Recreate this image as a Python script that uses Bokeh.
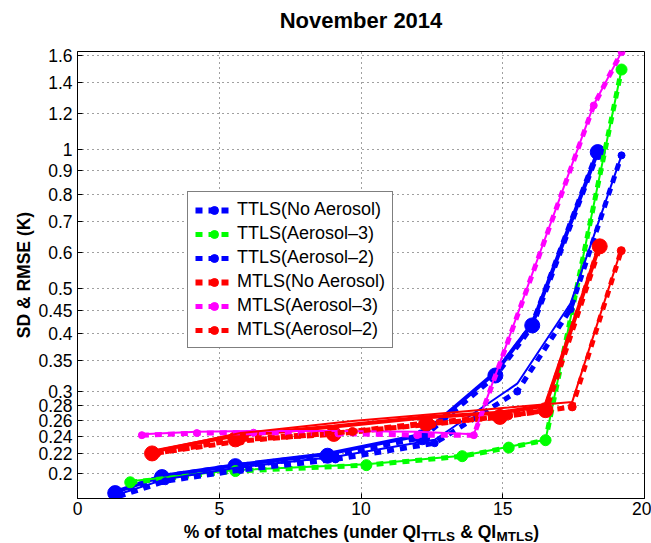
from bokeh.plotting import figure
from bokeh.layouts import column
from bokeh.models import (Range1d, FixedTicker, CustomJSTickFormatter, Legend,
                          LegendItem)
from bokeh.core.properties import value
from bokeh.embed import file_html
from bokeh.resources import INLINE

FONT = "Liberation Sans"

# ---------------- data ----------------
x_ticks = [0, 5, 10, 15, 20]
x_grid = [5, 10, 15]
y_ticks = [0.2, 0.22, 0.24, 0.26, 0.28, 0.3, 0.35, 0.4, 0.45, 0.5,
           0.6, 0.7, 0.8, 0.9, 1, 1.2, 1.4, 1.6]

names = ["TTLS(No Aerosol)", "TTLS(Aerosol\u20133)", "TTLS(Aerosol\u20132)",
         "MTLS(No Aerosol)", "MTLS(Aerosol\u20133)", "MTLS(Aerosol\u20132)"]
colors = ["#0000ff", "#00ff00", "#0000ff", "#ff0000", "#ff00ff", "#ff0000"]

# % of total matches
ttls_noaer_x = [1.33, 2.98, 5.57, 8.82, 12.16, 14.74, 16.04, 18.35]
ttls_aer3_x = [1.86, 5.57, 10.19, 13.57, 15.21, 16.51, 19.19]
ttls_aer2_x = [1.45, 3.10, 5.75, 9.10, 12.60, 15.51, 17.39, 19.19]
mtls_noaer_x = [2.63, 5.57, 9.04, 12.30, 14.90, 16.51, 18.42]
mtls_aer3_x = [2.27, 4.21, 6.21, 9.20, 11.98, 13.98, 18.21, 19.19]
mtls_aer2_x = [2.80, 5.75, 9.70, 12.50, 15.20, 17.45, 19.18]

# SD (dashed, with markers)
ttls_noaer_sd = [0.181, 0.196, 0.207, 0.218, 0.239, 0.325, 0.417, 0.988]
ttls_aer3_sd = [0.191, 0.202, 0.208, 0.2175, 0.227, 0.2355, 1.49]
ttls_aer2_sd = [0.178, 0.192, 0.203, 0.214, 0.232, 0.300, 0.452, 0.972]
mtls_noaer_sd = [0.2205, 0.2365, 0.243, 0.256, 0.2645, 0.2735, 0.618]
mtls_aer3_sd = [0.2415, 0.244, 0.2445, 0.2435, 0.2415, 0.2415, 1.246, 1.625]
mtls_aer2_sd = [0.221, 0.2345, 0.246, 0.255, 0.266, 0.278, 0.605]

# RMSE (solid)
ttls_noaer_rmse = [0.182, 0.197, 0.208, 0.220, 0.242, 0.330, 0.420, 0.990]
ttls_aer3_rmse = [0.192, 0.203, 0.209, 0.218, 0.228, 0.236, 1.49]
ttls_aer2_rmse = [0.180, 0.194, 0.206, 0.217, 0.236, 0.312, 0.465, 0.972]
mtls_noaer_rmse = [0.2225, 0.241, 0.252, 0.264, 0.270, 0.280, 0.622]
mtls_aer3_rmse = [0.2425, 0.2455, 0.2465, 0.2465, 0.2455, 0.2425, 1.25, 1.625]
mtls_aer2_rmse = [0.224, 0.244, 0.259, 0.268, 0.277, 0.285, 0.609]

xs_all = [ttls_noaer_x, ttls_aer3_x, ttls_aer2_x, mtls_noaer_x, mtls_aer3_x, mtls_aer2_x]
sd_all = [ttls_noaer_sd, ttls_aer3_sd, ttls_aer2_sd, mtls_noaer_sd, mtls_aer3_sd, mtls_aer2_sd]
rm_all = [ttls_noaer_rmse, ttls_aer3_rmse, ttls_aer2_rmse, mtls_noaer_rmse, mtls_aer3_rmse, mtls_aer2_rmse]

solid_w = [4, 2, 2, 4, 2, 2]
dash_w = [6, 5, 5, 6, 5, 5]
msize = [15, 11, 7, 15, 7, 8]

title_text = "November 2014"
y_label = "SD & RMSE (K)"
xlabel_main = ["% of total matches (under QI", "& QI", ")"]
xlabel_sub = ["TTLS", "MTLS"]

BL, BR = 77, 7   # left / right borders of all three stacked panels


def strip(height):
    f = figure(width=651, height=height, x_range=Range1d(0, 20),
               y_range=Range1d(height, 0), output_backend="svg",
               toolbar_location=None, x_axis_location=None, y_axis_location=None,
               min_border_left=BL, min_border_right=BR, min_border_top=0,
               min_border_bottom=0)
    f.title = None
    f.outline_line_color = None
    f.grid.visible = False
    return f


# ---------------- title strip ----------------
pt = strip(40)
pt.text(x=[10], y=[20.3], text=[title_text], text_font=value(FONT),
        text_font_style="bold", text_font_size="22px",
        text_baseline="middle", text_align="center", text_color="black")

# ---------------- main figure ----------------
p = figure(width=651, height=481, x_range=Range1d(0, 20),
           y_range=Range1d(0.1762, 1.63), y_axis_type="log",
           output_backend="svg", toolbar_location=None,
           min_border_left=BL, min_border_right=BR,
           min_border_top=11, min_border_bottom=23)
p.title = None

p.outline_line_color = "black"
p.outline_line_width = 1
p.outline_line_alpha = 1

p.xaxis.ticker = FixedTicker(ticks=x_ticks)
p.yaxis.ticker = FixedTicker(ticks=y_ticks)
p.yaxis.formatter = CustomJSTickFormatter(code="return String(Math.round(tick*100)/100);")
for ax in (p.xaxis, p.yaxis):
    ax.major_tick_in = 5
    ax.major_tick_out = 0
    ax.minor_tick_line_color = None
    ax.axis_line_color = "black"
    ax.major_tick_line_color = "black"
    ax.major_label_text_font = FONT
    ax.major_label_text_font_size = "17.5px"
    ax.major_label_text_color = "black"
p.xaxis.major_label_standoff = 3
p.yaxis.major_label_standoff = 5
p.yaxis.axis_label = y_label
p.yaxis.axis_label_text_font = FONT
p.yaxis.axis_label_text_font_style = "bold"
p.yaxis.axis_label_text_font_size = "17.5px"
p.yaxis.axis_label_text_color = "black"
p.yaxis.axis_label_standoff = 1

p.xgrid.ticker = FixedTicker(ticks=x_grid)
p.ygrid.ticker = FixedTicker(ticks=y_ticks)
for g in (p.xgrid, p.ygrid):
    g.grid_line_color = "#404040"
    g.grid_line_dash = "1 4"
    g.grid_line_width = 1

items = []
for i in range(6):
    c = colors[i]
    p.line(xs_all[i], rm_all[i], line_color=c, line_width=solid_w[i])
    dr = p.line(xs_all[i], sd_all[i], line_color=c, line_width=dash_w[i],
                line_dash="7 6")
    mr = p.scatter(xs_all[i], sd_all[i], marker="circle", size=msize[i],
                   fill_color=c, line_color=c)
    items.append(LegendItem(label=names[i], renderers=[dr, mr]))

legend = Legend(items=items, location=(110, 150),
                border_line_color="black", border_line_width=1,
                background_fill_color="white", background_fill_alpha=1,
                label_text_font=FONT, label_text_font_size="18px",
                label_text_color="black",
                glyph_width=38, glyph_height=20, label_height=20,
                label_standoff=4, spacing=3, padding=7, margin=0)
p.add_layout(legend)

# ---------------- x-axis label strip ----------------
px = strip(22)
px.text(x=[3.746, 13.50, 16.08], y=[10.5, 10.5, 10.5], text=xlabel_main,
        text_font=value(FONT), text_font_style="bold", text_font_size="17.5px",
        text_line_height=1.0,
        text_baseline="middle", text_align="left", text_color="black")
px.text(x=[12.124, 14.78], y=[15.2, 15.2], text=xlabel_sub,
        text_font=value(FONT), text_font_style="bold", text_font_size="13.5px",
        text_line_height=1.0,
        text_baseline="middle", text_align="left", text_color="black")

layout = column(pt, p, px, spacing=0)
open("out.html", "w").write(file_html(layout, INLINE))
